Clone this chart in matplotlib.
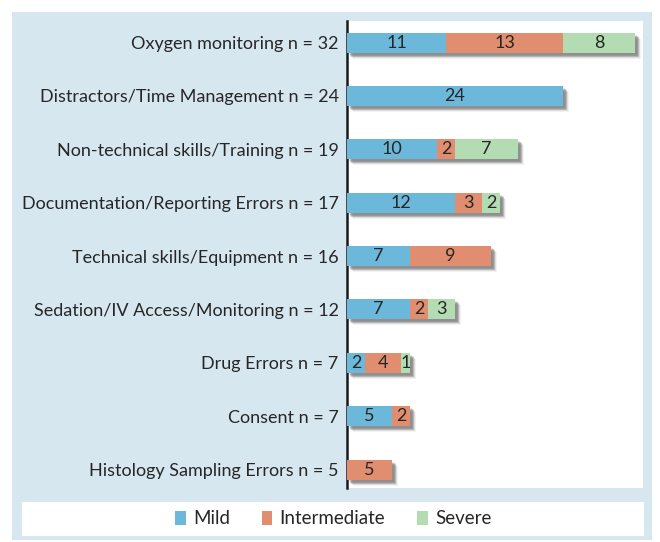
import matplotlib
matplotlib.use("Agg")
import matplotlib.pyplot as plt
import matplotlib.patches as mpatches
import matplotlib.transforms as mtransforms
import numpy as np

categories = [
    "Oxygen monitoring n = 32",
    "Distractors/Time Management n = 24",
    "Non-technical skills/Training n = 19",
    "Documentation/Reporting Errors n = 17",
    "Technical skills/Equipment n = 16",
    "Sedation/IV Access/Monitoring n = 12",
    "Drug Errors n = 7",
    "Consent n = 7",
    "Histology Sampling Errors n = 5",
]
mild = [11, 24, 10, 12, 7, 7, 2, 5, 0]
intermediate = [13, 0, 2, 3, 9, 2, 4, 2, 5]
severe = [8, 0, 7, 2, 0, 3, 1, 0, 0]
series_names = ["Mild", "Intermediate", "Severe"]

colors = ["#6bb8da", "#e08e6f", "#b3dcb3"]
bg = "#d7e7f0"
txt = "#262626"
font = "Lato"
fs = 13

W, H = 660, 542
fig = plt.figure(figsize=(W / 100, H / 100), dpi=100)
fig.patch.set_facecolor("white")

def fx(px):
    return px / W

def fy(py):
    return 1 - py / H

# light blue panel
fig.patches.append(mpatches.Rectangle((fx(12), fy(540)), fx(652) - fx(12), fy(12) - fy(540),
                                      transform=fig.transFigure, facecolor=bg, edgecolor="none", zorder=-3))
# legend white box
fig.patches.append(mpatches.Rectangle((fx(22), fy(536)), fx(644) - fx(22), fy(502) - fy(536),
                                      transform=fig.transFigure, facecolor="white", edgecolor="none", zorder=-2))

left, right, top, bottom = 347, 643, 21, 488
ax = fig.add_axes([fx(left), fy(bottom), fx(right) - fx(left), fy(top) - fy(bottom)])
ax.set_facecolor("white")

n = len(categories)
y = np.arange(n)
h = 0.375
mild_a = np.array(mild)
inter_a = np.array(intermediate)
sev_a = np.array(severe)
totals = mild_a + inter_a + sev_a

# blurred shadows
for dx, dy, a in [(2, 2, 0.14), (3, 3, 0.16), (4, 4, 0.18), (5, 5, 0.12), (6, 6, 0.07), (4, 3, 0.10), (3, 4, 0.10)]:
    tr = mtransforms.offset_copy(ax.transData, fig=fig, x=dx, y=-dy, units="dots")
    ax.barh(y, totals, height=h, left=0, color="#4a4a4a", alpha=a, transform=tr, zorder=1, linewidth=0)

lefts = np.zeros(n)
for vals, c in zip([mild_a, inter_a, sev_a], colors):
    ax.barh(y, vals, height=h, left=lefts, color=c, zorder=3, linewidth=0)
    for yi, (l, v) in enumerate(zip(lefts, vals)):
        if v > 0:
            ax.text(l + v / 2, yi, str(v), ha="center", va="center", fontsize=fs,
                    color=txt, family=font, zorder=4)
    lefts = lefts + vals

ax.set_xlim(0, (right - left) / 9.0)
ax.set_ylim(8.346, -0.403)
ax.set_xticks([])
ax.set_yticks(y)
ax.set_yticklabels(categories, fontsize=fs, color=txt, family=font)
ax.tick_params(axis="y", length=0, pad=6)
for s in ["top", "right", "bottom"]:
    ax.spines[s].set_visible(False)
ax.spines["left"].set_linewidth(1.8)
ax.spines["left"].set_color("#1a1a1a")

handles = [mpatches.Patch(facecolor=c, edgecolor="none", label=nme) for c, nme in zip(colors, series_names)]
leg = fig.legend(handles=handles, loc="center", bbox_to_anchor=(0.505, fy(519)), ncol=3, frameon=False,
                 prop={"family": font, "size": 13.5}, handlelength=0.55, handleheight=0.7,
                 columnspacing=1.7, handletextpad=0.4)
for t in leg.get_texts():
    t.set_color(txt)

fig.savefig("out.png", dpi=100, facecolor=fig.get_facecolor())
